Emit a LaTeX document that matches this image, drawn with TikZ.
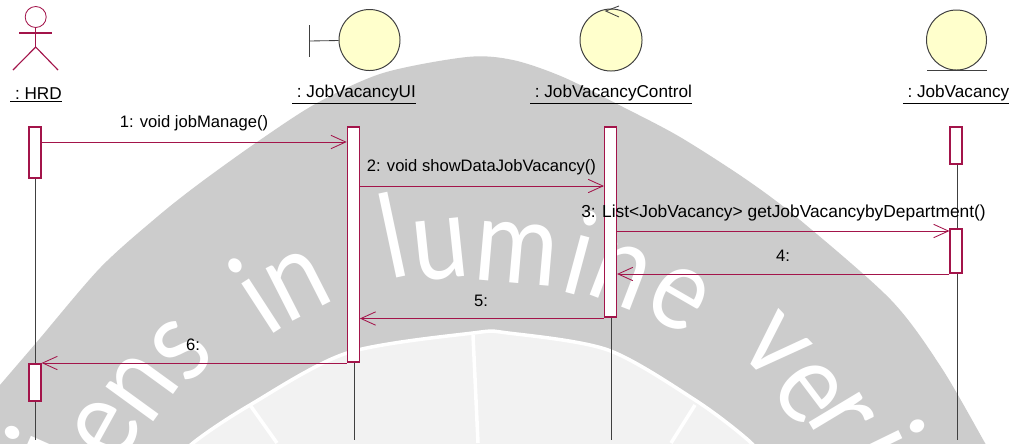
\documentclass[tikz,border=0pt]{standalone}
\usepackage{fontspec}
\setmainfont{Liberation Sans}
\newfontfamily\markfont{Lato}
\usepackage{tikz}
\usetikzlibrary{arrows.meta}

\definecolor{umlred}{HTML}{A3144A}
\definecolor{umlball}{HTML}{FFFFCC}
\definecolor{umlline}{HTML}{404040}
\definecolor{markgray}{HTML}{CCCCCC}
\definecolor{marklight}{HTML}{F2F2F2}

\begin{document}
\begin{tikzpicture}[x=0.025cm,y=-0.025cm]
            \tikzstyle{every node}=[font=\fontsize{11.8}{14}\selectfont, inner sep=0pt]
            \tikzstyle{title}=[font=\fontsize{12.2}{14}\selectfont]
            \tikzstyle{bar}=[draw=umlred, fill=white, line width=0.8pt, minimum width=0.3cm]
            \tikzstyle{ball}=[circle, draw=umlline, fill=umlball, line width=0.7pt]
            \tikzstyle{life}=[draw=umlline, line width=0.6pt]
            \tikzstyle{msg}=[draw=umlred, line width=0.6pt, ->, >={Straight Barb[length=10.5pt,width=9.5pt]}]
            \tikzstyle{actor}=[draw=umlred, line width=0.8pt]
            \tikzstyle{markletter}=[font=\markfont\fontsize{72}{90}\selectfont, text=white]
            \useasboundingbox (0,0) rectangle (1016,443);
            \fill [white] (0,0) rectangle (1016,443);
            \begin{scope}
                \clip (0,0) rectangle (1016,443);
                \fill [markgray] plot [smooth] coordinates {(-12,400) (0,385) (36,343) (100,268) (157,217) (200,183) (260,140) (317,103) (383,73) (467,57) (513,60) (563,77) (623,107) (680,137) (747,180) (800,220) (891,300) (941,367) (985,443) (1000,470)} -- (-12,470) -- cycle;
                \fill [marklight, draw=white, line width=2.5pt] plot [smooth] coordinates {(170,470) (193,443) (250,405) (347,353) (473,333) (508,333) (608,350) (695,400) (748,440) (775,470)} -- cycle;
                \draw [white, line width=2.5pt] (250,405) -- (277,443);
                \draw [white, line width=2.5pt] (473,335) -- (478,443);
                \draw [white, line width=2.5pt] (695,405) -- (671,443);
                \foreach \mx/\my/\ang/\ch [count=\i] in {45/447/66/i, 107/430/61/e, 142/387/54/n, 182/350/46/s, 255/295/33/i, 298/285/27/n, 392/235/12/l, 441/250/6/u, 517/253/-5/m, 581/253/-15/i, 621/275/-21/n, 678/298/-30/e, 775/347/-46/v, 808/392/-53/e, 841/417/-59/r, 886/442/-64/i}
                    \node [markletter, rotate=\ang, yscale=1.15] (mark\i) at (\mx,\my) {\ch};
            \end{scope}

            \node [ball, draw=umlred, fill=none, line width=0.6pt, minimum size=0.525cm] (hrdhead) at (35.7,17) {};
            \coordinate (hrdhip) at (35.7,47);
            \draw [actor] (hrdhead) -- (hrdhip);
            \draw [actor] (19,33) -- (52,33);
            \draw [actor] (13,70) -- (hrdhip) -- (58,70);

            \node [ball, minimum size=1.525cm] (uiball) at (369.5,40) {};
            \coordinate (uistem) at (309,41);
            \draw [life] (uistem) -- (uiball);
            \draw [life] (309,25) -- (309,57);

            \node [ball, minimum size=1.55cm] (ctrlball) at (611,40) {};
            \draw [life] (619,6) -- (605.7,11) -- (619,17);

            \node [ball, minimum size=1.5cm] (vacball) at (956.5,40) {};
            \draw [draw=umlline, line width=1pt] (927,70.7) -- (987,70.7);

            \node [title] (hrdname) at (36,94.5) {\underline{\ :\ HRD}};
            \node [title] (uiname) at (354,94.5) {\underline{\ :\ JobVacancyUI}};
            \node [title] (ctrlname) at (611,94.5) {\underline{\ :\ JobVacancyControl}};
            \node [title] (vacname) at (956,94.5) {\underline{\ :\ JobVacancy}};

            \node [bar, minimum height=1.275cm] (hrdbarA) at (35,152.5) {};
            \node [bar, minimum height=0.925cm] (hrdbarB) at (35,382.5) {};
            \node [bar, minimum height=5.875cm] (uibar) at (353.3,244.5) {};
            \node [bar, minimum height=4.75cm] (ctrlbar) at (610.5,222) {};
            \node [bar, minimum height=0.925cm] (vacbarA) at (956,145.5) {};
            \node [bar, minimum height=1.1cm] (vacbarB) at (956,251) {};

            \coordinate (hrdend) at (35.7,440);
            \coordinate (uiend) at (354,440);
            \coordinate (ctrlend) at (611,440);
            \coordinate (vacend) at (957,440);
            \draw [life] (hrdbarA.south -| hrdend) -- (hrdbarB.north -| hrdend);
            \draw [life] (hrdbarB.south -| hrdend) -- (hrdend);
            \draw [life] (uibar.south -| uiend) -- (uiend);
            \draw [life] (ctrlbar.south -| ctrlend) -- (ctrlend);
            \draw [life] (vacbarA.south -| vacend) -- (vacbarB.north -| vacend);
            \draw [life] (vacbarB.south -| vacend) -- (vacend);

            \coordinate (rowA) at (0,142);
            \coordinate (rowB) at (0,186);
            \coordinate (rowC) at (0,231);
            \coordinate (rowD) at (0,274);
            \coordinate (rowE) at (0,318.5);
            \coordinate (rowF) at (0,363);
            \draw [msg] (hrdbarA.east |- rowA) -- (uibar.west |- rowA);
            \draw [msg] (uibar.east |- rowB) -- (ctrlbar.west |- rowB);
            \draw [msg] (ctrlbar.east |- rowC) -- (vacbarB.west |- rowC);
            \draw [msg] (vacbarB.west |- rowD) -- (ctrlbar.east |- rowD);
            \draw [msg] (ctrlbar.west |- rowE) -- (uibar.east |- rowE);
            \draw [msg] (uibar.west |- rowF) -- (hrdbarB.east |- rowF);

            \node (msgtextA) at (194,123) {1: void jobManage()};
            \node (msgtextB) at (481.5,167.5) {2: void showDataJobVacancy()};
            \node [font=\fontsize{12.35}{14}\selectfont] (msgtextC) at (783.5,213) {3: List<JobVacancy> getJobVacancybyDepartment()};
            \node (msgtextD) at (783,256) {4:};
            \node (msgtextE) at (481,301) {5:};
            \node (msgtextF) at (193,345) {6:};
        \end{tikzpicture}
\end{document}
